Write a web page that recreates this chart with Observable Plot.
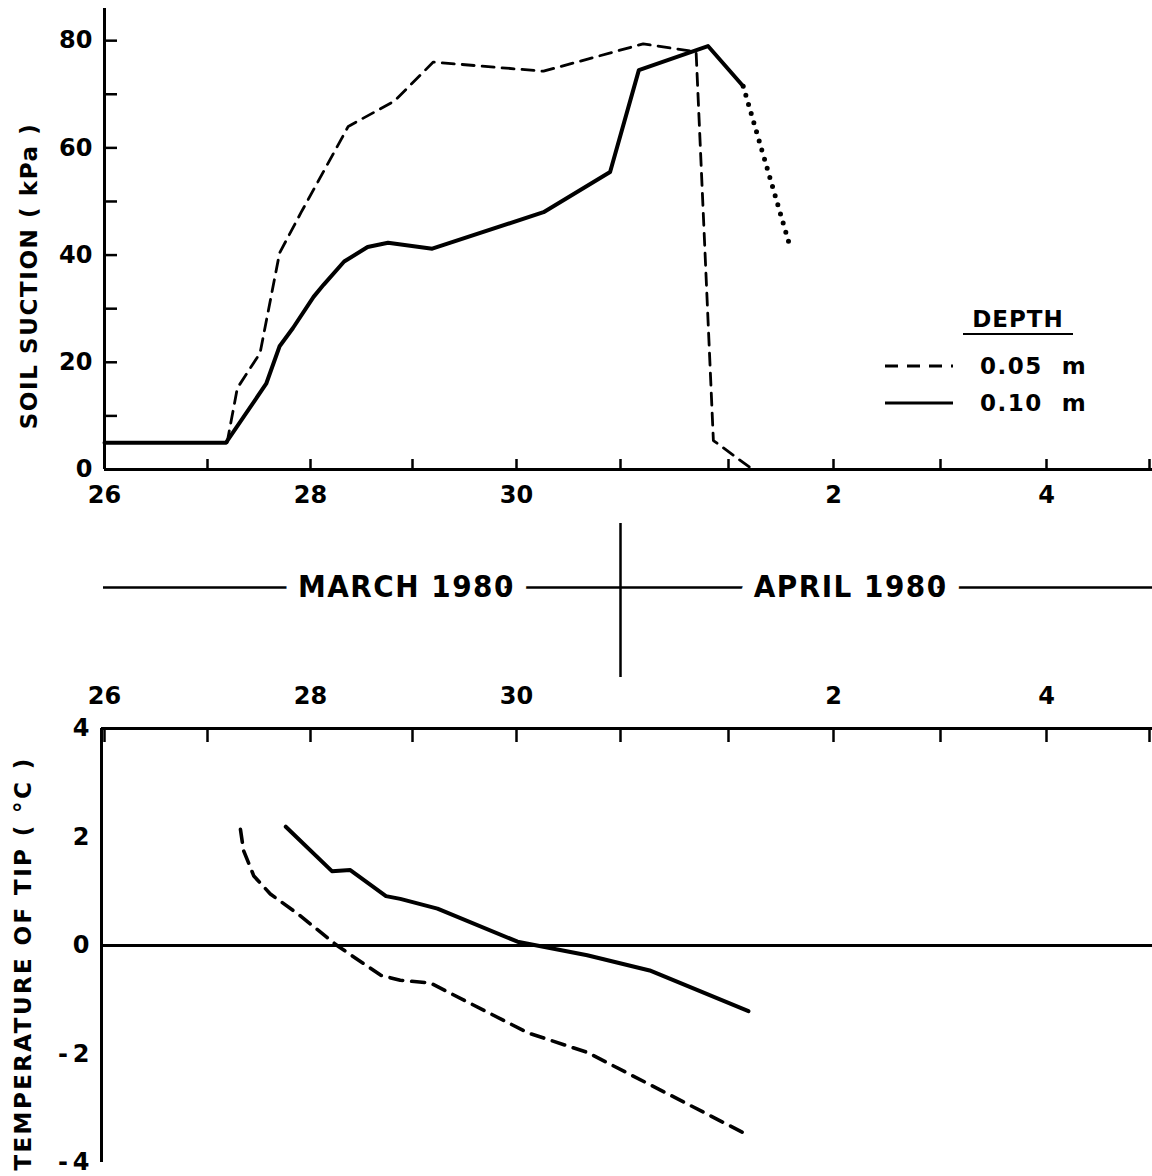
<!DOCTYPE html>
<html>
<head>
<meta charset="utf-8">
<script src="https://cdn.jsdelivr.net/npm/d3@7"></script>
<script src="https://cdn.jsdelivr.net/npm/@observablehq/plot@0.6"></script>
<style>
  html, body { margin: 0; padding: 0; background: #fff; }
  #wrap { position: relative; width: 1152px; height: 1176px; overflow: hidden; background: #fff; color: #000; font-family: 'DejaVu Sans', sans-serif; font-weight: bold; }
  #wrap > svg { position: absolute; left: 0; }
  .lbl text { letter-spacing: 1.6px; }
  .lbl2 text { letter-spacing: 2.4px; }
  .month text { letter-spacing: 1.5px; }
  .legend-title { position: absolute; left: 963px; top: 305px; width: 110px; text-align: center; font-size: 23px; line-height: 28px; border-bottom: 2.5px solid #000; letter-spacing: 1px; }
  .legend-row { position: absolute; left: 885px; height: 28px; display: flex; align-items: center; font-size: 23px; letter-spacing: 1.5px; }
  .legend-row svg { width: 68px; height: 10px; margin-right: 27px; }
</style>
</head>
<body>
<div id="wrap"></div>
<script>
// ---------- data (x = days after 00:00, 26 March 1980) ----------
const tickDays   = [0, 1, 2, 3, 4, 5, 6, 7, 8, 9, 10];
const tickLabels = ["26", "", "28", "", "30", "", "", "2", "", "4", ""];

const suctionTicks  = [0, 10, 20, 30, 40, 50, 60, 70, 80];
const suctionLabels = [0, 20, 40, 60, 80];
const tempTicks     = [4, 2, 0, -2, -4];

// Soil suction, depth 0.05 m (dashed)
const suction005Day = [1.19, 1.29, 1.51, 1.70, 1.91, 2.37, 2.82, 3.20, 4.26, 5.21, 5.70, 5.86, 6.23];
const suction005kPa = [5, 15.2, 21.7, 40.4, 48, 64, 68.7, 76, 74.3, 79.4, 77.9, 5.4, 0];

// Soil suction, depth 0.10 m (solid) and its dotted continuation
const suction010Day = [0, 1.18, 1.57, 1.70, 1.83, 2.03, 2.13, 2.33, 2.56, 2.76, 3.19, 4.26, 4.90, 5.17, 5.81, 6.14];
const suction010kPa = [5, 5, 16, 23, 26.4, 32.2, 34.5, 38.8, 41.5, 42.3, 41.2, 48, 55.5, 74.5, 79, 71.5];
const suction010DotDay = [6.14, 6.58];
const suction010DotkPa = [71.5, 42];

// Temperature of tip
const temp005Day = [1.32, 1.35, 1.45, 1.61, 1.88, 2.26, 2.69, 2.88, 3.17, 4.11, 4.68, 6.18];
const temp005C   = [2.14, 1.75, 1.28, 0.95, 0.58, 0.0, -0.55, -0.64, -0.69, -1.61, -1.97, -3.49];
const temp010Day = [1.76, 2.21, 2.39, 2.74, 2.88, 3.24, 4.01, 4.68, 5.27, 6.19];
const temp010C   = [2.19, 1.37, 1.39, 0.91, 0.86, 0.68, 0.07, -0.18, -0.46, -1.21];

const monthLabels    = ["MARCH 1980", "APRIL 1980"];
const monthCenterDay = [2.94, 7.16];
const monthBoundaryDay = 5;

const legendTitle  = "DEPTH";
const legendLabels = ["0.05  m", "0.10  m"];

// ---------- helpers ----------
const FONT = "'DejaVu Sans', sans-serif";
const NARROW = "'DejaVu Sans Condensed', 'Liberation Sans Narrow', 'DejaVu Sans', sans-serif";
const t0 = Date.UTC(1980, 2, 26);
const toDate = d => new Date(t0 + d * 864e5);
const dayOf = date => Math.round((+date - t0) / 864e5);
const tickDates = tickDays.map(toDate);
const fmtDay = d => tickLabels[dayOf(d)] ?? "";
const rows = (days, vals) => days.map((d, i) => ({date: toDate(d), v: vals[i]}));
// piecewise time scale: the hand-drawn day ticks are not perfectly evenly spaced
const xRange = [104, 207, 310, 412, 516, 620, 728, 833, 940, 1046, 1149];
const xScale = () => ({type: "utc", domain: tickDates, range: xRange, axis: null});
const baseStyle = {background: "transparent", overflow: "visible", color: "#000", fontFamily: FONT, fontWeight: "bold", fontSize: "24px"};
const blank = () => "";

const wrap = document.getElementById("wrap");

// ---------- top panel: soil suction ----------
const topPlot = Plot.plot({
  width: 1152, height: 510,
  marginLeft: 104, marginRight: 0, marginTop: 8, marginBottom: 41,
  style: baseStyle,
  x: xScale(),
  y: {domain: [0, 86], axis: null},
  marks: [
    Plot.ruleX([toDate(0)], {stroke: "#000", strokeWidth: 3}),
    Plot.ruleY([0], {stroke: "#000", strokeWidth: 3}),
    Plot.axisX(tickDates, {anchor: "bottom", tickSize: -10, tickFormat: blank, strokeWidth: 2.5, label: null}),
    Plot.axisX(tickDates, {anchor: "bottom", tickSize: 0, tickPadding: 16, tickFormat: fmtDay, fontSize: 24, fontWeight: "bold", label: null}),
    Plot.axisY(suctionTicks, {anchor: "left", tickSize: -13, tickFormat: blank, strokeWidth: 2.5, label: null}),
    Plot.axisY(suctionLabels, {anchor: "left", tickSize: 0, tickPadding: 12, fontSize: 24, fontWeight: "bold", label: null}),
    Plot.line(rows(suction005Day, suction005kPa), {x: "date", y: "v", stroke: "#000", strokeWidth: 2.8, strokeDasharray: "12,8"}),
    Plot.line(rows(suction010Day, suction010kPa), {x: "date", y: "v", stroke: "#000", strokeWidth: 4}),
    Plot.line(rows(suction010DotDay, suction010DotkPa), {x: "date", y: "v", stroke: "#000", strokeWidth: 5, strokeDasharray: "0,9.5", strokeLinecap: "round"}),
    Plot.text(["SOIL SUCTION ( kPa )"], {text: d => d, frameAnchor: "left", textAnchor: "middle", rotate: -90, dx: -75, dy: 37, fontSize: 23, fontWeight: "bold", className: "lbl"})
  ]
});
topPlot.style.top = "0px";
wrap.appendChild(topPlot);

// ---------- middle band: months ----------
const midPlot = Plot.plot({
  width: 1152, height: 154,
  marginLeft: 103, marginRight: 0, marginTop: 0, marginBottom: 0,
  style: baseStyle,
  x: xScale(),
  y: {domain: [-1, 1], range: [128, 0], axis: null},
  marks: [
    Plot.ruleY([0], {stroke: "#000", strokeWidth: 2.5}),
    Plot.ruleX([toDate(monthBoundaryDay)], {stroke: "#000", strokeWidth: 2.5}),
    Plot.text(monthLabels, {
      x: (d, i) => toDate(monthCenterDay[i]), y: 0, text: d => d, className: "month",
      fontFamily: NARROW, fontSize: 31, fontWeight: "bold",
      fill: "#000", stroke: "#fff", strokeWidth: 28, paintOrder: "stroke", strokeLinejoin: "round"
    })
  ]
});
midPlot.style.top = "523px";
wrap.appendChild(midPlot);

// ---------- bottom panel: temperature of tip ----------
const botPlot = Plot.plot({
  width: 1152, height: 500,
  marginLeft: 101, marginRight: 0, marginTop: 52, marginBottom: 14,
  style: baseStyle,
  x: xScale(),
  y: {domain: [-4, 4], axis: null},
  marks: [
    Plot.ruleY([4, 0], {stroke: "#000", strokeWidth: 3}),
    Plot.ruleX([toDate(0)], {stroke: "#000", strokeWidth: 3, dx: -3}),
    Plot.axisX(tickDates, {anchor: "top", tickSize: -13, tickFormat: blank, strokeWidth: 2.5, label: null}),
    Plot.axisX(tickDates, {anchor: "top", tickSize: 0, tickPadding: 25, tickFormat: fmtDay, fontSize: 24, fontWeight: "bold", label: null}),
    Plot.axisY(tempTicks, {anchor: "left", tickSize: 0, tickPadding: 12, tickFormat: d => d < 0 ? "-\u2009" + (-d) : String(d), fontSize: 24, fontWeight: "bold", label: null}),
    Plot.line(rows(temp005Day, temp005C), {x: "date", y: "v", stroke: "#000", strokeWidth: 3.6, strokeDasharray: "13,9"}),
    Plot.line(rows(temp010Day, temp010C), {x: "date", y: "v", stroke: "#000", strokeWidth: 4}),
    Plot.text(["TEMPERATURE OF TIP ( °C )"], {text: d => d, frameAnchor: "left", textAnchor: "middle", rotate: -90, dx: -78, dy: 18, fontSize: 23, fontWeight: "bold", className: "lbl2"})
  ]
});
botPlot.style.top = "676px";
wrap.appendChild(botPlot);

// ---------- legend ----------
const title = document.createElement("div");
title.className = "legend-title";
title.textContent = legendTitle;
wrap.appendChild(title);
const styles = [
  {dash: "13,9", width: 3, top: 352},
  {dash: null, width: 3, top: 389}
];
legendLabels.forEach((lab, i) => {
  const row = document.createElement("div");
  row.className = "legend-row";
  row.style.top = styles[i].top + "px";
  row.innerHTML = `<svg viewBox="0 0 68 10"><line x1="0" y1="5" x2="68" y2="5" stroke="#000" stroke-width="${styles[i].width}" ${styles[i].dash ? `stroke-dasharray="${styles[i].dash}"` : ""}/></svg><span style="white-space:pre">${lab}</span>`;
  wrap.appendChild(row);
});
</script>
</body>
</html>
